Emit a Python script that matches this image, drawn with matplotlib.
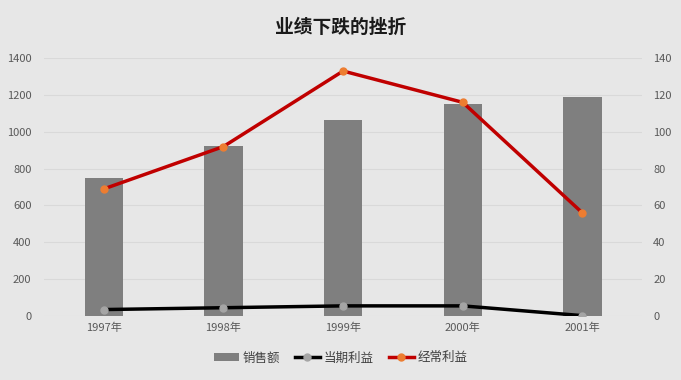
import matplotlib
matplotlib.use("Agg")
import matplotlib.pyplot as plt
import numpy as np

plt.rcParams['font.family'] = ['Noto Sans CJK SC', 'DejaVu Sans']

years = ['1997年', '1998年', '1999年', '2000年', '2001年']
sales = [750, 922, 1063, 1150, 1190]          # 销售额 (left axis)
current_profit = [3.5, 4.5, 5.5, 5.5, 0.2]    # 当期利益 (right axis)
ordinary_profit = [69, 92, 133, 116, 56]      # 经常利益 (right axis)

bg = '#e7e7e7'
fig = plt.figure(figsize=(6.81, 3.80), dpi=100, facecolor=bg)
ax = fig.add_axes([0.0646, 0.1684, 0.8784, 0.6786], facecolor=bg)
ax2 = ax.twinx()

x = np.arange(len(years))
bars = ax.bar(x, sales, width=0.32, color='#7f7f7f', label='销售额', zorder=2)
l1, = ax2.plot(x, current_profit, color='black', lw=2.5, marker='o', ms=5,
               mfc='#a5a5a5', mec='#a5a5a5', label='当期利益', zorder=3)
l2, = ax2.plot(x, ordinary_profit, color='#c00000', lw=2.5, marker='o', ms=5,
               mfc='#ed7d31', mec='#ed7d31', label='经常利益', zorder=3)

ax.set_xlim(-0.5, len(years) - 0.5)
ax.set_ylim(0, 1400)
ax.set_yticks(range(0, 1401, 200))
ax2.set_ylim(0, 140)
ax2.set_yticks(range(0, 141, 20))
ax.set_xticks(x)
ax.set_xticklabels(years)
ax.grid(axis='y', color='#d9d9d9', lw=0.8, zorder=0)
ax.set_axisbelow(True)

for a in (ax, ax2):
    for s in a.spines.values():
        s.set_visible(False)
    a.tick_params(length=0, labelsize=8, colors='#595959')
ax.tick_params(axis='y', pad=9)
ax2.tick_params(axis='y', pad=8)
ax.tick_params(axis='x', pad=5)
ax.set_zorder(ax2.get_zorder() - 1)
ax2.patch.set_visible(False)

fig.text(0.5, 0.928, '业绩下跌的挫折', ha='center', va='center',
         fontsize=13.5, fontweight='bold', color='#1a1a1a')

fig.legend(handles=[bars, l1, l2], loc='center', bbox_to_anchor=(0.5, 0.058),
           ncol=3, frameon=False, fontsize=9, handlelength=2.0,
           columnspacing=1.2, handletextpad=0.3, labelcolor='#404040')

fig.savefig('out.png', dpi=100, facecolor=bg)
